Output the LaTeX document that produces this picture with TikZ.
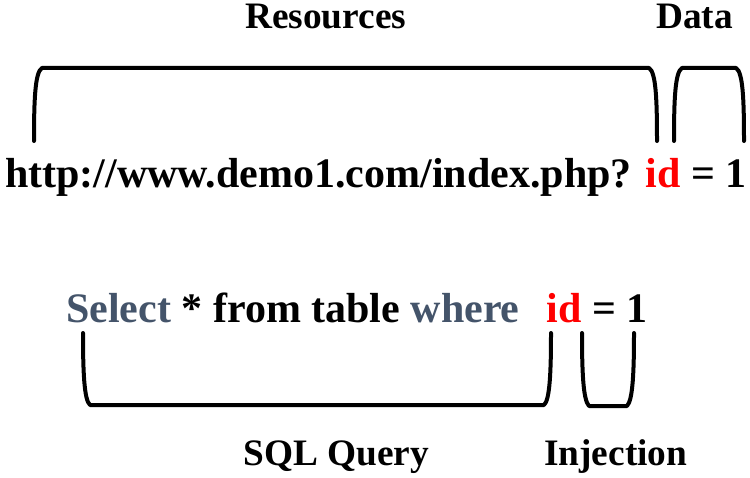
\documentclass[tikz,border=0pt]{standalone}
\usepackage{fontspec}
\setmainfont{Liberation Serif}
\definecolor{kwblue}{RGB}{68,84,106}
\definecolor{idred}{RGB}{255,0,0}
\tikzset{
  bigtext/.style={anchor=base west, inner sep=0pt, font=\fontsize{31.5}{36}\selectfont\bfseries},
  label/.style={anchor=base west, inner sep=0pt, font=\fontsize{28}{32}\selectfont\bfseries},
  brace/.style={line width=3pt, line cap=round, line join=round, black}
}
\begin{document}
\begin{tikzpicture}[x=0.75pt,y=-0.75pt]
\useasboundingbox (0,0) rectangle (750,478);
% labels
\node[label] (res) at (245,29) {Resources};
\node[label] (data) at (656,29) {Data};
\node[label] (sql) at (243,465) {SQL Query};
\node[label] (inj) at (544,465) {Injection};
% texts
\node[bigtext] (url) at (5,187) {http://www.demo1.com/index.php? \textcolor{idred}{id} = 1};
\node[bigtext] (query) at (66,322) {\textcolor{kwblue}{Select} * from table \textcolor{kwblue}{where}\hspace{0.65em}\textcolor{idred}{id} = 1};
% brackets
\draw[brace] (34,141) .. controls (34,100) and (35,72) .. (42,68) -- (649,68) .. controls (656,72) and (657,100) .. (657,141);
\draw[brace] (674,141) .. controls (674,100) and (675,72) .. (682,68) -- (736,68) .. controls (743,72) and (744,100) .. (744,141);
\draw[brace] (83,333) .. controls (83,370) and (84,400) .. (90,405) -- (544,405) .. controls (550,400) and (551,370) .. (551,333);
\draw[brace] (582,333) .. controls (582,370) and (583,400) .. (589,406) -- (627,406) .. controls (633,400) and (634,370) .. (634,333);
\end{tikzpicture}
\end{document}
